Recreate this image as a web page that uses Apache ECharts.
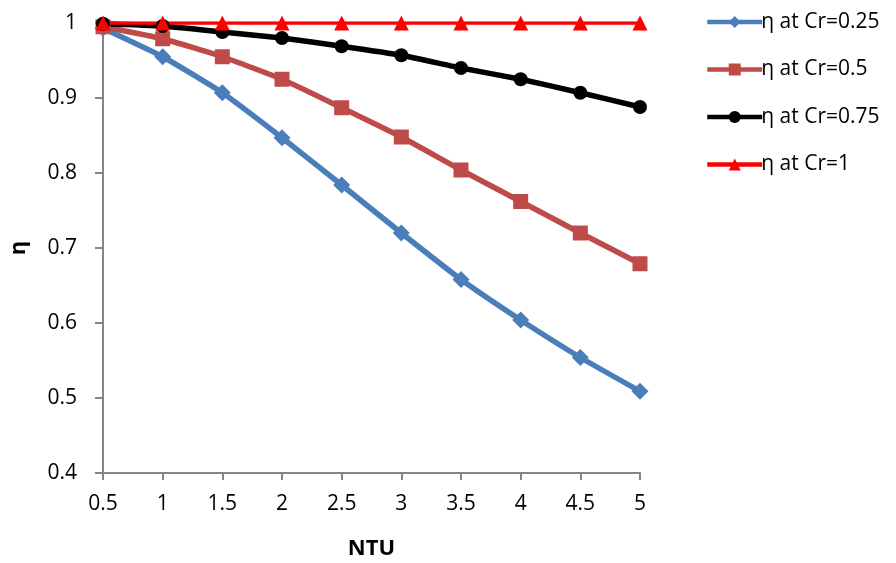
<!DOCTYPE html>
<html>
<head>
<meta charset="utf-8">
<script src="https://cdn.jsdelivr.net/npm/echarts@6/dist/echarts.min.js"></script>
<style>
  html, body { margin: 0; padding: 0; background: #fff; }
  #chart { width: 896px; height: 563px; }
</style>
</head>
<body>
<div id="chart"></div>
<script>
// NTU values along the x axis
const ntu = [0.5, 1, 1.5, 2, 2.5, 3, 3.5, 4, 4.5, 5];

// Efficiency η for each capacity ratio Cr
const etaCr025 = [0.993, 0.955, 0.907, 0.847, 0.784, 0.720, 0.658, 0.604, 0.554, 0.509];
const etaCr05  = [0.995, 0.979, 0.955, 0.925, 0.887, 0.848, 0.804, 0.762, 0.720, 0.679];
const etaCr075 = [0.999, 0.996, 0.988, 0.980, 0.969, 0.957, 0.940, 0.925, 0.907, 0.888];
const etaCr1   = [1, 1, 1, 1, 1, 1, 1, 1, 1, 1];

const seriesNames = ['η at Cr=0.25', 'η at Cr=0.5', 'η at Cr=0.75', 'η at Cr=1'];

const FONT = '"Open Sans", "Liberation Sans", sans-serif';

function pairs(ys) {
  return ntu.map((x, i) => [x, ys[i]]);
}

function lineSeries(name, ys, color, symbol, size, width) {
  return {
    name: name,
    type: 'line',
    data: pairs(ys),
    symbol: symbol,
    symbolSize: size,
    smooth: 0.15,
    lineStyle: { color: color, width: width },
    itemStyle: { color: color },
    emphasis: { disabled: true }
  };
}

const chart = echarts.init(document.getElementById('chart'));
chart.setOption({
  animation: false,
  backgroundColor: '#ffffff',
  textStyle: { fontFamily: FONT },
  grid: { left: 103, right: 256, top: 23, bottom: 90, containLabel: false, outerBoundsMode: 'none' },
  legend: {
    orient: 'vertical',
    left: 700,
    top: 5,
    itemWidth: 55,
    itemHeight: 15,
    itemGap: 23.5,
    data: seriesNames,
    lineStyle: { width: 4.5 },
    textStyle: { fontFamily: FONT, fontSize: 21, color: '#000', lineHeight: 24, padding: [0, 0, 0, -6] }
  },
  xAxis: {
    type: 'value',
    min: 0.5,
    max: 5,
    interval: 0.5,
    name: 'NTU',
    nameLocation: 'middle',
    nameGap: 65,
    nameTextStyle: { fontFamily: FONT, fontSize: 22, fontWeight: 'bold', color: '#000' },
    axisLine: { lineStyle: { color: '#868686', width: 2 } },
    axisTick: { show: true, length: 7, lineStyle: { color: '#868686', width: 2 } },
    axisLabel: { fontFamily: FONT, fontSize: 21, color: '#000', margin: 21 },
    splitLine: { show: false }
  },
  yAxis: {
    type: 'value',
    min: 0.4,
    max: 1,
    interval: 0.1,
    name: 'η',
    nameLocation: 'middle',
    nameGap: 73,
    nameRotate: 90,
    nameTextStyle: { fontFamily: FONT, fontSize: 22, fontWeight: 'bold', color: '#000' },
    axisLine: { show: true, lineStyle: { color: '#868686', width: 2 } },
    axisTick: { show: true, length: 8, lineStyle: { color: '#868686', width: 2 } },
    axisLabel: { fontFamily: FONT, fontSize: 21, color: '#000', margin: 26 },
    splitLine: { show: false }
  },
  series: [
    lineSeries(seriesNames[0], etaCr025, '#4a7ebb', 'diamond', 17, 5.5),
    lineSeries(seriesNames[1], etaCr05, '#be4b48', 'rect', 15, 5.5),
    lineSeries(seriesNames[2], etaCr075, '#000000', 'circle', 14, 5.5),
    lineSeries(seriesNames[3], etaCr1, '#ff0000', 'triangle', 15, 3.5)
  ]
});
</script>
</body>
</html>
